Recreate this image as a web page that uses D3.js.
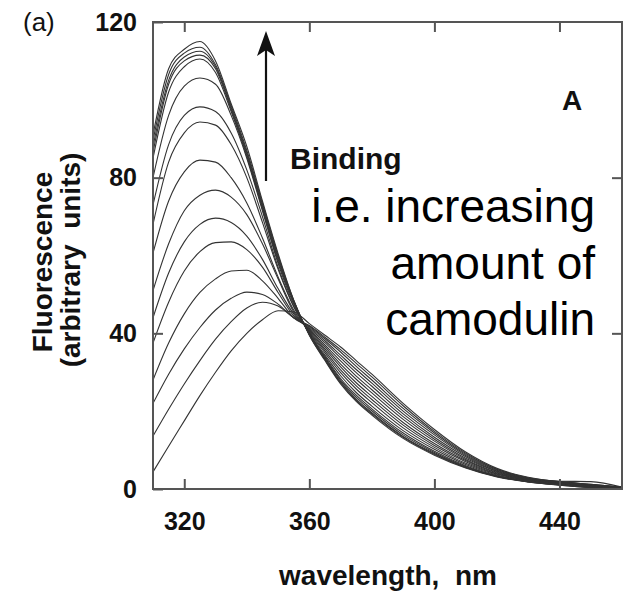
<!DOCTYPE html>
<html>
<head>
<meta charset="utf-8">
<script src="https://cdn.jsdelivr.net/npm/d3@7"></script>
<style>
  body { margin: 0; background: #fff; }
  svg { display: block; font-family: "Liberation Sans", Arial, Helvetica, sans-serif; }
</style>
</head>
<body>
<svg id="chart"></svg>
<script>
const wavelengths = [310, 315, 320, 325, 330, 335, 340, 345, 350, 355, 360, 365, 370, 375, 380, 390, 400, 410, 420, 430, 440, 450, 460];

// spectra, from free peptide (lowest peak) to fully bound (highest peak)
const spectrum0  = [4.4, 11, 17.5, 24, 30, 35.5, 40, 43.5, 45.8, 45.5, 42.5, 39.5, 36.5, 33, 29.5, 22, 15.3, 9.5, 5.3, 3.0, 2.0, 1.9, 0.5];
const spectrum1  = [13.6, 20.5, 27, 33, 38.5, 43, 46.5, 48, 47, 44, 42, 39.0, 35.8, 32.3, 28.8, 21.4, 14.8, 9.2, 5.1, 2.9, 1.9, 1.2, 0.5];
const spectrum2  = [22, 29.5, 36, 41.5, 46, 49, 50.6, 50, 47.5, 44, 41.8, 38.6, 35.2, 31.5, 28.0, 20.7, 14.4, 8.9, 5.0, 2.8, 1.9, 1.2, 0.5];
const spectrum3  = [28, 37.5, 45, 50.5, 54, 56, 56.2, 53.5, 49, 44, 41.6, 38.1, 34.4, 30.7, 27.2, 20.0, 13.9, 8.6, 4.8, 2.7, 1.8, 1.1, 0.4];
const spectrum4  = [37.5, 48, 56, 61, 63.3, 63.5, 61.5, 57, 50.5, 44.5, 41.3, 37.6, 33.7, 29.9, 26.4, 19.3, 13.3, 8.3, 4.6, 2.6, 1.7, 1.0, 0.4];
const spectrum5  = [44, 55.5, 63.5, 68, 69.6, 68.5, 65, 59, 51.5, 45, 41, 37.0, 32.9, 29.0, 25.5, 18.6, 12.8, 7.9, 4.5, 2.5, 1.6, 1.0, 0.4];
const spectrum6  = [51, 63, 71.5, 75.5, 76.8, 75, 70.5, 63, 54, 45.5, 40.8, 36.5, 32.1, 28.2, 24.7, 17.9, 12.3, 7.6, 4.3, 2.5, 1.5, 0.9, 0.4];
const spectrum7  = [60.6, 74, 81.5, 84.5, 84, 80, 73.5, 64.5, 54.5, 46, 40.6, 36.0, 31.4, 27.3, 23.8, 17.1, 11.7, 7.3, 4.1, 2.4, 1.5, 0.8, 0.3];
const spectrum8  = [68, 84, 91.5, 94.3, 93.5, 88.5, 80, 68.5, 56.5, 46.8, 40.4, 35.5, 30.6, 26.5, 23.0, 16.4, 11.2, 7.0, 3.9, 2.3, 1.4, 0.7, 0.3];
const spectrum9  = [73, 88.5, 96, 98.2, 97, 91.5, 82, 70, 57, 47, 40.2, 35.0, 29.9, 25.7, 22.2, 15.7, 10.7, 6.6, 3.8, 2.2, 1.3, 0.7, 0.3];
const spectrum10 = [80, 96, 103.5, 105.6, 104, 96, 85, 71.5, 58, 47.5, 40, 34.4, 29.1, 24.8, 21.3, 15.0, 10.2, 6.3, 3.6, 2.1, 1.2, 0.6, 0.3];
const spectrum11 = [85, 102, 108.5, 110.5, 107, 97, 85.5, 72, 58.5, 48, 39.9, 34.0, 28.4, 24.1, 20.6, 14.4, 9.7, 6.0, 3.4, 2.0, 1.2, 0.5, 0.2];
const spectrum12 = [86.5, 104, 110, 111.5, 108, 97.5, 86, 72.5, 59, 48.2, 39.8, 33.7, 28.0, 23.6, 20.1, 13.9, 9.4, 5.8, 3.3, 1.9, 1.1, 0.5, 0.2];
const spectrum13 = [88, 105, 111, 112.5, 108.5, 98, 86.5, 73, 59.5, 48.3, 39.7, 33.4, 27.6, 23.1, 19.6, 13.5, 9.1, 5.6, 3.2, 1.9, 1.1, 0.5, 0.2];
const spectrum14 = [89.5, 106.5, 112, 113.5, 109, 98.5, 87, 73.5, 60, 48.5, 39.6, 33.2, 27.3, 22.8, 19.3, 13.3, 8.9, 5.5, 3.2, 1.8, 1.0, 0.4, 0.2];
const spectrum15 = [91, 108, 113, 115, 110, 99, 88, 74, 60.5, 48.5, 39.5, 33.0, 27.0, 22.5, 19.0, 13.0, 8.7, 5.4, 3.1, 1.8, 1.0, 0.4, 0.2];

const xTicks = [320, 360, 400, 440];
const yTicks = [0, 40, 80, 120];

const spectra = [spectrum0, spectrum1, spectrum2, spectrum3, spectrum4, spectrum5, spectrum6, spectrum7,
  spectrum8, spectrum9, spectrum10, spectrum11, spectrum12, spectrum13, spectrum14, spectrum15];

const width = 625;
const height = 595;
const margin = { top: 22, right: 3, bottom: 106, left: 153 };

const svg = d3.select("#chart")
  .attr("width", width)
  .attr("height", height);

const xScale = d3.scaleLinear()
  .domain([310, 460])
  .range([margin.left, width - margin.right]);

const yScale = d3.scaleLinear()
  .domain([0, 120])
  .range([height - margin.bottom, margin.top]);

// clip curves to the frame
svg.append("clipPath").attr("id", "plotClip")
  .append("rect")
  .attr("x", margin.left).attr("y", margin.top)
  .attr("width", width - margin.left - margin.right)
  .attr("height", height - margin.top - margin.bottom);

const line = d3.line()
  .x((d, i) => xScale(wavelengths[i]))
  .y(d => yScale(d))
  .curve(d3.curveMonotoneX);

svg.append("g")
  .attr("clip-path", "url(#plotClip)")
  .selectAll(".spectrum")
  .data(spectra)
  .enter().append("path")
  .attr("class", "spectrum")
  .attr("d", line)
  .attr("fill", "none")
  .attr("stroke", "#333")
  .attr("stroke-width", 1.1);

// axes, ticks pointing inward
const tickColor = "#555";
const labelFont = "bold 25px 'Liberation Sans', Arial, sans-serif";

const xAxis = svg.append("g")
  .attr("transform", `translate(0,${height - margin.bottom})`)
  .call(d3.axisBottom(xScale).tickValues(xTicks).tickSizeInner(-10).tickSizeOuter(0).tickPadding(23));

const yAxis = svg.append("g")
  .attr("transform", `translate(${margin.left},0)`)
  .call(d3.axisLeft(yScale).tickValues(yTicks).tickSizeInner(-10).tickSizeOuter(0).tickPadding(16));

const topAxis = svg.append("g")
  .attr("transform", `translate(0,${margin.top})`)
  .call(d3.axisTop(xScale).tickValues(xTicks).tickSizeInner(-10).tickSizeOuter(0).tickFormat(""));

const rightAxis = svg.append("g")
  .attr("transform", `translate(${width - margin.right},0)`)
  .call(d3.axisRight(yScale).tickValues([40, 80]).tickSizeInner(-10).tickSizeOuter(0).tickFormat(""));

[xAxis, yAxis, topAxis, rightAxis].forEach(g => {
  g.select(".domain").remove();
  g.selectAll(".tick line").attr("stroke", tickColor).attr("stroke-width", 2);
  g.selectAll(".tick text").attr("fill", "#111").style("font", labelFont);
});

// frame
svg.append("rect")
  .attr("x", margin.left)
  .attr("y", margin.top)
  .attr("width", width - margin.left - margin.right)
  .attr("height", height - margin.top - margin.bottom)
  .attr("fill", "none")
  .attr("stroke", tickColor)
  .attr("stroke-width", 2);

// axis titles
svg.append("text")
  .attr("transform", "translate(52,262) rotate(-90)")
  .attr("text-anchor", "middle")
  .style("font", "bold 28px 'Liberation Sans', Arial, sans-serif")
  .attr("fill", "#111")
  .text("Fluorescence");

svg.append("text")
  .attr("transform", "translate(80,260) rotate(-90)")
  .attr("text-anchor", "middle")
  .style("font", "bold 28px 'Liberation Sans', Arial, sans-serif")
  .style("white-space", "pre")
  .attr("fill", "#111")
  .text("(arbitrary  units)");

svg.append("text")
  .attr("x", 388)
  .attr("y", 585)
  .attr("text-anchor", "middle")
  .style("font", "bold 28px 'Liberation Sans', Arial, sans-serif")
  .style("white-space", "pre")
  .attr("fill", "#111")
  .text("wavelength,  nm");

// panel marks
svg.append("text")
  .attr("x", 23).attr("y", 31)
  .style("font", "26px 'Liberation Sans', Arial, sans-serif")
  .attr("fill", "#111")
  .text("(a)");

svg.append("text")
  .attr("x", 572).attr("y", 110)
  .attr("text-anchor", "middle")
  .style("font", "bold 28px 'Liberation Sans', Arial, sans-serif")
  .attr("fill", "#111")
  .text("A");

// binding arrow
svg.append("line")
  .attr("x1", 266).attr("y1", 181)
  .attr("x2", 266).attr("y2", 45)
  .attr("stroke", "#111")
  .attr("stroke-width", 2.2);

svg.append("path")
  .attr("d", "M266,31 L257,56 L266,50 L275,56 Z")
  .attr("fill", "#111");

svg.append("text")
  .attr("x", 290).attr("y", 169)
  .style("font", "bold 30px 'Liberation Sans', Arial, sans-serif")
  .attr("fill", "#111")
  .text("Binding");

// note
const noteLines = ["i.e. increasing", "amount of", "camodulin"];
const noteBaselines = [222, 279, 335];
svg.selectAll(".note")
  .data(noteLines)
  .enter().append("text")
  .attr("class", "note")
  .attr("x", 595)
  .attr("y", (d, i) => noteBaselines[i])
  .attr("text-anchor", "end")
  .style("font", "46px 'Liberation Sans', Arial, sans-serif")
  .attr("fill", "#000")
  .text(d => d);
</script>
</body>
</html>
